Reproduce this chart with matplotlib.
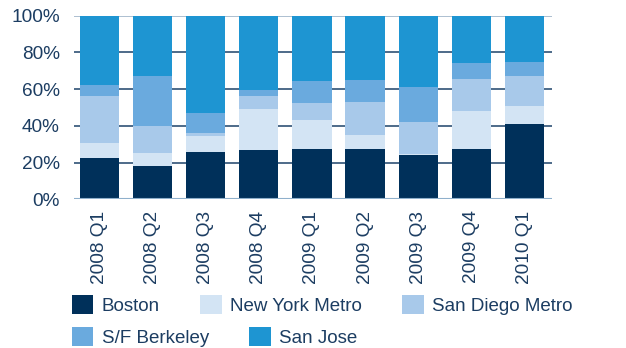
import matplotlib.pyplot as plt
import numpy as np
from matplotlib.patches import Patch

plt.rcParams['font.family'] = ['Liberation Sans', 'DejaVu Sans']

quarters = ['2008 Q1', '2008 Q2', '2008 Q3', '2008 Q4', '2009 Q1',
            '2009 Q2', '2009 Q3', '2009 Q4', '2010 Q1']
series = ['Boston', 'New York Metro', 'San Diego Metro', 'S/F Berkeley', 'San Jose']
boston = [22.6, 18.4, 25.8, 26.9, 27.4, 27.4, 24.2, 27.4, 41.0]
new_york = [8.1, 6.9, 8.7, 22.5, 15.8, 7.7, 0.5, 20.7, 9.8]
san_diego = [25.6, 14.6, 1.6, 6.9, 9.2, 17.9, 17.4, 17.4, 16.3]
sf_berkeley = [5.9, 27.2, 10.9, 3.4, 12.0, 11.9, 19.0, 8.7, 7.6]
san_jose = [37.8, 32.9, 53.0, 40.3, 35.6, 35.1, 38.9, 25.8, 25.3]
colors = ['#00305a', '#d3e4f4', '#a8c9ea', '#6aaade', '#1e95d2']

text_col = '#1c3d62'
fs = 13.5

fig = plt.figure(figsize=(6.26, 3.48), dpi=100)
ax = fig.add_axes([0.118, 0.427, 0.764, 0.528])

x = np.arange(len(quarters))
bottom = np.zeros(len(quarters))
for vals, c in zip([boston, new_york, san_diego, sf_berkeley, san_jose], colors):
    ax.bar(x, vals, width=0.74, bottom=bottom, color=c, zorder=3)
    bottom += np.array(vals)

ax.set_xlim(-0.48, 8.52)
ax.set_ylim(0, 100)
ax.set_yticks([0, 20, 40, 60, 80, 100])
ax.set_yticklabels(['0%', '20%', '40%', '60%', '80%', '100%'])
for yv in [20, 40, 60, 80]:
    ax.axhline(yv, color='#3f5f80', lw=1.3, zorder=1)
ax.axhline(100, color='#a6bacd', lw=1.3, zorder=1)
ax.axhline(0, color='#8fb0cc', lw=1.5, zorder=4)

ax.set_xticks(x)
ax.set_xticklabels(quarters, rotation=90)
ax.tick_params(axis='both', length=0, labelsize=13.7, labelcolor=text_col)
ax.tick_params(axis='y', pad=10)
ax.tick_params(axis='x', pad=8)
for s in ax.spines.values():
    s.set_visible(False)

handles = [Patch(facecolor=c, edgecolor='none') for c in colors]
leg_kw = dict(frameon=False, fontsize=fs, handlelength=1.14, handleheight=1.17,
              handletextpad=0.45, columnspacing=2.15, borderpad=0,
              borderaxespad=0, loc='center left', labelcolor=text_col)
fig.legend(handles[:3], series[:3], ncol=3, bbox_to_anchor=(72 / 626, 0.124), **leg_kw)
fig.legend(handles[3:], series[3:], ncol=2, bbox_to_anchor=(72 / 626, 0.032), **leg_kw)

fig.savefig('out.png', dpi=100)
